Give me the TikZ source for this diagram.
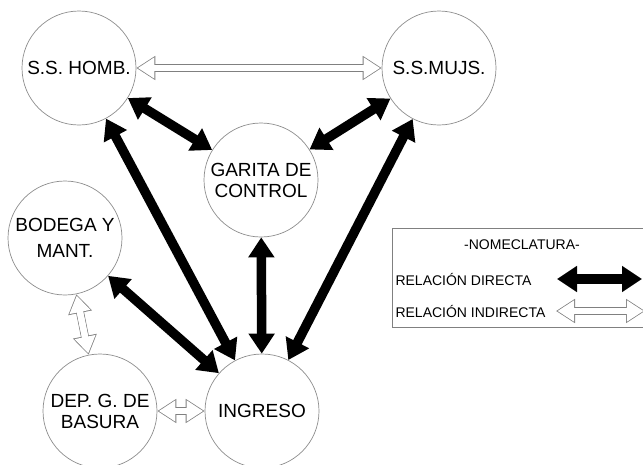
\documentclass[tikz,border=0pt]{standalone}
\usepackage{fontspec}
\setmainfont{Liberation Sans}
\usetikzlibrary{arrows.meta, positioning}

\begin{document}
\begin{tikzpicture}[
  x=1pt, y=-1pt,
  font=\fontsize{19}{21}\selectfont,
  area/.style={
    circle,
    draw=black!45,
    line width=0.7pt,
    minimum size=114pt,
    inner sep=0pt,
    align=center,
    text=black
  },
  directa/.style={
    {Triangle[length=20pt, width=25pt]}-{Triangle[length=20pt, width=25pt]},
    line width=9.5pt,
    draw=black
  },
  indirecta/.style={
    {Triangle[length=19pt, width=23pt]}-{Triangle[length=19pt, width=23pt]},
    line width=8pt,
    draw=black!50
  },
  hueco/.style={
    {Triangle[length=16.6pt, width=20.2pt]}-{Triangle[length=16.6pt, width=20.2pt]},
    line width=6.4pt,
    draw=white,
    shorten >=1.5pt,
    shorten <=1.5pt
  },
  eje/.style={
    line width=6.4pt,
    draw=white,
    shorten >=15pt,
    shorten <=15pt
  },
  leyenda/.style={
    draw=black!50,
    line width=0.7pt,
    anchor=north west,
    minimum width=300pt,
    minimum height=99pt
  },
  nota/.style={
    font=\fontsize{14}{16}\selectfont,
    text=black
  }
]
  \useasboundingbox (0,0) rectangle (643,464);
  \clip (0,0) rectangle (643,464);

  \node[area] (homb) at (79,68) {S.S. HOMB.};
  \node[area] (mujs) at (439,68) {S.S.MUJS.};
  \node[area] (gar) at (261,180) {GARITA DE\\CONTROL};
  \node[area] (bod) at (65,238) {BODEGA Y\\[5pt]MANT.};
  \node[area] (dep) at (100,411) {DEP. G. DE\\BASURA};
  \node[area] (ing) at (262,411) {INGRESO};

  \foreach \a/\b in {homb/gar, mujs/gar, homb/ing, mujs/ing, gar/ing, bod/ing} {
    \draw[directa] (\a) -- (\b);
  }

  \foreach \a/\b in {homb/mujs, bod/dep, dep/ing} {
    \draw[indirecta] (\a) -- (\b);
    \draw[hueco] (\a) -- (\b);
    \draw[eje] (\a) -- (\b);
  }

  \node[leyenda] (ley) at (392,228) {};
  \node[nota] (tit) at (522,245) {-NOMECLATURA-};
  \node[nota, anchor=west] (rd) at (392,279) {RELACIÓN DIRECTA};
  \node[nota, anchor=west] (ri) at (392,311) {RELACIÓN INDIRECTA};

  \coordinate (d1) at (557,279);
  \coordinate (d2) at (642,279);
  \coordinate (i1) at (556,311);
  \coordinate (i2) at (645,311);

  \draw[directa] (d1) -- (d2);
  \draw[indirecta] (i1) -- (i2);
  \draw[hueco] (i1) -- (i2);
  \draw[eje] (i1) -- (i2);
\end{tikzpicture}
\end{document}
